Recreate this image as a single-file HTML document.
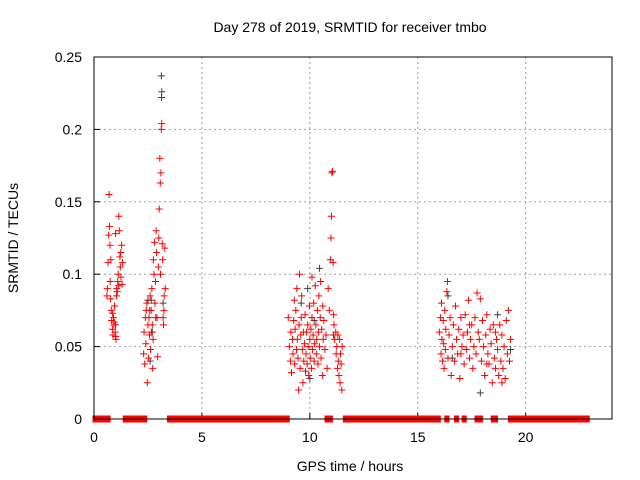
<!DOCTYPE html>
<html><head><meta charset="utf-8"><style>
body{margin:0;background:#fff;}
svg{display:block;font-family:"Liberation Sans",sans-serif;}
</style></head><body>
<svg id="chart" width="640" height="480" xmlns="http://www.w3.org/2000/svg">
<rect width="640" height="480" fill="#fff"/>
<text x="350" y="32" font-size="14" text-anchor="middle">Day 278 of 2019, SRMTID for receiver tmbo</text>
<text x="350" y="471" font-size="14" text-anchor="middle">GPS time / hours</text>
<text x="18" y="238" font-size="14" text-anchor="middle" transform="rotate(-90 18 238)">SRMTID / TECUs</text>
<g id="grid"></g>
<g id="ticks"></g>
<g id="zero"></g>
<g id="grey"></g>
<g id="red"></g>
<rect x="94" y="57" width="518" height="362" fill="none" stroke="#000" stroke-width="1"/>
</svg>
<script>
const xTicks=[0,5,10,15,20];
const yTicks=[0,0.05,0.1,0.15,0.2,0.25];
const yTickLabels=["0","0.05","0.1","0.15","0.2","0.25"];
const redHours=[0.62,0.65,0.68,0.7,0.72,0.74,0.75,0.77,0.8,0.82,0.85,0.88,0.9,0.92,0.95,0.98,1.0,1.02,1.05,1.08,1.1,1.12,1.15,1.17,1.2,1.22,1.25,1.28,1.3,1.32,0.6,0.78,0.86,0.94,1.04,1.14,1.24,1.0,
2.3,2.32,2.35,2.38,2.4,2.42,2.45,2.47,2.5,2.52,2.55,2.57,2.6,2.62,2.65,2.68,2.7,2.72,2.75,2.78,2.8,2.82,2.85,2.88,2.9,2.92,2.95,2.98,3.0,3.02,3.05,3.07,3.1,3.12,3.14,3.16,3.18,3.2,3.22,3.25,3.28,3.3,2.58,2.66,2.74,2.86,3.08,3.24,
9.0,9.05,9.1,9.12,9.15,9.2,9.22,9.25,9.3,9.32,9.35,9.38,9.4,9.42,9.45,9.5,9.52,9.55,9.58,9.6,9.62,9.65,9.68,9.7,9.72,9.75,9.78,9.8,9.82,9.85,9.88,9.9,9.92,9.95,9.98,10.0,10.02,10.05,10.08,10.1,10.12,10.15,10.18,10.2,10.22,10.25,10.28,10.3,10.32,10.35,10.38,10.4,10.42,10.45,10.48,10.5,10.52,10.55,10.58,10.6,10.62,10.65,10.7,10.75,10.8,10.85,10.9,10.95,10.98,11.0,11.02,11.05,11.08,11.1,11.12,11.15,11.2,11.22,11.25,11.28,11.3,11.32,11.35,11.38,11.4,11.42,11.45,11.48,11.5,9.28,9.48,10.1,
16.0,16.05,16.08,16.1,16.12,16.15,16.18,16.2,16.22,16.25,16.28,16.3,16.35,16.38,16.4,16.45,16.5,16.55,16.6,16.65,16.7,16.75,16.8,16.85,16.9,16.95,17.0,17.05,17.1,17.15,17.2,17.25,17.3,17.35,17.4,17.45,17.5,17.55,17.6,17.65,17.7,17.75,17.8,17.85,17.9,17.95,18.0,18.05,18.1,18.15,18.2,18.25,18.3,18.35,18.4,18.45,18.5,18.55,18.6,18.65,18.7,18.75,18.8,18.85,18.9,18.95,19.0,19.05,19.1,19.15,19.2,19.25,19.3,17.0,17.4,18.2,18.6,18.9];
const redValues=[.09,.108,.127,.155,.133,.12,.095,.083,.075,.068,.062,.058,.07,.065,.078,.06,.057,.055,.09,.088,.095,.1,.14,.13,.112,.105,.098,.12,.093,.108,.085,.11,.073,.067,.085,.092,.115,.128,
.045,.06,.038,.07,.052,.075,.08,.025,.065,.042,.07,.058,.085,.048,.075,.09,.065,.035,.11,.1,.122,.08,.095,.13,.115,.07,.043,.105,.125,.145,.18,.163,.17,.2,.204,.121,.11,.07,.065,.085,.118,.09,.075,.06,.055,.07,.1,.075,
.07,.05,.04,.06,.032,.055,.045,.068,.038,.062,.075,.048,.09,.055,.042,.065,.1,.035,.058,.07,.085,.048,.025,.06,.04,.052,.072,.033,.045,.06,.038,.065,.05,.03,.078,.055,.042,.062,.035,.07,.048,.058,.08,.04,.052,.092,.065,.045,.055,.075,.038,.06,.085,.05,.07,.095,.042,.062,.03,.078,.055,.068,.048,.058,.035,.09,.075,.11,.125,.14,.17,.171,.108,.072,.065,.055,.06,.045,.05,.035,.058,.04,.03,.055,.025,.045,.038,.02,.05,.082,.02,.098,
.06,.07,.045,.08,.055,.04,.068,.052,.035,.075,.048,.062,.088,.095,.042,.058,.07,.03,.05,.065,.04,.078,.055,.045,.062,.028,.07,.05,.058,.038,.072,.048,.06,.082,.042,.055,.065,.035,.05,.07,.045,.087,.06,.055,.083,.04,.068,.05,.03,.058,.072,.045,.038,.062,.052,.025,.065,.042,.035,.055,.048,.03,.065,.04,.058,.035,.05,.028,.068,.045,.075,.04,.055,.045,.065,.038,.06,.025];
const greyHours=[3.12,3.14,3.13,2.5,2.7,3.2,1.0,2.6,2.65,10.45,9.6,10.2,11.1,10.0,9.9,16.4,17.9,18.7,19.3,16.6];
const greyValues=[.237,.226,.222,.082,.06,.08,.065,.04,.082,.104,.08,.068,.058,.028,.09,.085,.018,.072,.048,.042];
const zeroStarts=[0,1.4,3.45,10.75,11.6,16.3,16.75,17.1,17.7,18.45,18.6,19.25];
const zeroEnds=[0.7,2.4,9.0,11.0,16.0,16.4,16.85,17.2,17.95,18.5,18.65,22.9];

const L=94,R=612,T=57,B=419,XMAX=24,YMAX=0.25;
const sx=h=>L+h*(R-L)/XMAX;
const sy=v=>B-v*(B-T)/YMAX;
const NS="http://www.w3.org/2000/svg";
function mk(tag,attrs,parent){const e=document.createElementNS(NS,tag);for(const k in attrs)e.setAttribute(k,attrs[k]);parent.appendChild(e);return e;}
const grid=document.getElementById('grid'),ticks=document.getElementById('ticks');
xTicks.forEach(t=>{
  const x=sx(t);
  if(t>0){const g=mk('line',{x1:x,x2:x,y1:T,y2:B,stroke:'#a0a0a0','stroke-dasharray':'2,3'},grid);
  
  }
  const tl=mk('line',{x1:x,x2:x,y1:B,y2:B-6,stroke:'#000'},ticks);
  
  
  const tt=mk('text',{x:x,y:B+23,'font-size':14,'text-anchor':'middle'},ticks);tt.textContent=String(t);
  
  
});
yTicks.forEach((t,i)=>{
  const y=sy(t);
  if(t>0&&t<YMAX){const g=mk('line',{x1:L,x2:R,y1:y,y2:y,stroke:'#a0a0a0','stroke-dasharray':'2,3'},grid);
  
  }
  const tl=mk('line',{x1:L,x2:L+6,y1:y,y2:y,stroke:'#000'},ticks);
  
  
  const tt=mk('text',{x:82,y:y+5,'font-size':14,'text-anchor':'end'},ticks);tt.textContent=yTickLabels[i];
  
  
});
const zero=document.getElementById('zero');
zeroStarts.forEach((s,i)=>{
  const x1=sx(s)-1.5,x2=sx(zeroEnds[i])+1.5;
  const r=mk('rect',{x:x1,y:B-3.5,width:x2-x1,height:7,fill:'#ff0000'},zero);
  
  
});
function plus(g,x,y,c){
  const p=mk('path',{d:`M${x-3.5} ${y}H${x+3.5}M${x} ${y-3.5}V${y+3.5}`,stroke:c,'stroke-width':1,fill:'none'},g);
  return p;
}
const grey=document.getElementById('grey');
greyHours.forEach((h,i)=>{
  const p=plus(grey,sx(h),sy(greyValues[i]),'#404040');
  
  
});
const red=document.getElementById('red');
redHours.forEach((h,i)=>{
  const p=plus(red,sx(h),sy(redValues[i]),'#ff0000');
  
  
});
</script>
</body></html>
